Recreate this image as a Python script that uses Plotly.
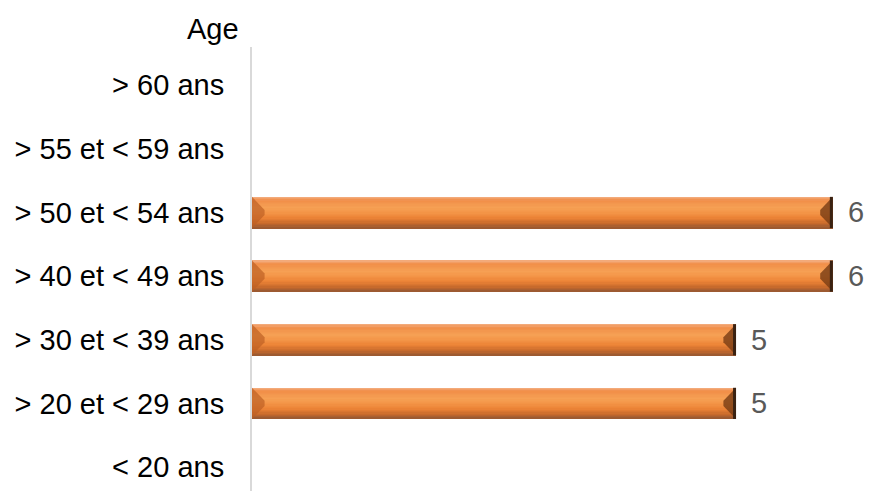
import plotly.graph_objects as go

# Age brackets, listed bottom to top
categories = ["< 20 ans", "> 20 et < 29 ans", "> 30 et < 39 ans", "> 40 et < 49 ans",
              "> 50 et < 54 ans", "> 55 et < 59 ans", "> 60 ans"]
counts = [0, 5, 5, 6, 6, 0, 0]

positions = list(range(len(categories)))
bar_values = [c if c > 0 else None for c in counts]

BAR_T = 0.49  # bar thickness in category units
FONT = "Liberation Sans, Arial"

# gradient key colours across the bar thickness (top -> bottom)
keys = [(0.0, (243, 176, 132)), (0.12, (241, 142, 72)), (0.35, (246, 160, 84)),
        (0.5, (244, 150, 72)), (0.68, (236, 131, 54)), (0.85, (200, 106, 44)),
        (1.0, (150, 88, 50))]


def shade(t):
    for (t0, c0), (t1, c1) in zip(keys, keys[1:]):
        if t0 <= t <= t1:
            f = (t - t0) / (t1 - t0)
            return "rgb({},{},{})".format(*[round(a + (b - a) * f) for a, b in zip(c0, c1)])
    return "rgb({},{},{})".format(*keys[-1][1])


fig = go.Figure()
n = 24
h = BAR_T / n
for i in range(n):
    top = BAR_T / 2 - i * h
    fig.add_trace(go.Bar(
        x=bar_values, y=positions, orientation="h",
        width=h * 1.1, offset=top - h,
        marker=dict(color=shade((i + 0.5) / n), line=dict(width=0)),
        hoverinfo="skip", showlegend=False,
    ))

shapes = []
cap = 0.13   # bevel depth along x
for p, v in zip(positions, counts):
    if v <= 0:
        continue
    y0, y1 = p - BAR_T / 2, p + BAR_T / 2
    # right bevel
    shapes.append(dict(type="path", xref="x", yref="y",
                       path=f"M {v} {y1} L {v - cap} {p + 0.04} L {v - cap} {p - 0.04} L {v} {y0} Z",
                       fillcolor="rgba(120,60,20,0.8)", line=dict(width=0), layer="above"))
    shapes.append(dict(type="line", xref="x", yref="y", x0=v - 0.015, x1=v - 0.015, y0=y0, y1=y1,
                       line=dict(color="#3A2212", width=3), layer="above"))
    # left bevel
    shapes.append(dict(type="path", xref="x", yref="y",
                       path=f"M 0 {y1} L {cap} {p + 0.04} L {cap} {p - 0.04} L 0 {y0} Z",
                       fillcolor="rgba(190,95,35,0.7)", line=dict(width=0), layer="above"))

annotations = [dict(x=v, y=p, xref="x", yref="y", text=str(v), showarrow=False,
                    xanchor="left", xshift=13, font=dict(size=29, color="#595959", family=FONT))
               for p, v in zip(positions, counts) if v > 0]
annotations.append(dict(x=0, y=1, xref="paper", yref="paper", text="Age", showarrow=False,
                        xanchor="right", yanchor="bottom", xshift=-11, yshift=0,
                        font=dict(size=29, color="#000000", family=FONT)))

fig.update_layout(
    width=869, height=491,
    margin=dict(l=252, r=0, t=47, b=0),
    paper_bgcolor="white", plot_bgcolor="white",
    barmode="overlay", bargap=0,
    font=dict(family=FONT, size=29, color="#000000"),
    xaxis=dict(range=[0, 6.374], visible=False),
    yaxis=dict(range=[-0.377, 6.6], tickmode="array", tickvals=positions, ticktext=categories,
               showgrid=False, zeroline=False, showline=True, linecolor="#D9D9D9", linewidth=2,
               ticks="", ticklabelstandoff=20, tickfont=dict(size=29, color="#000000")),
    shapes=shapes, annotations=annotations,
)

fig.write_html("out.html")
